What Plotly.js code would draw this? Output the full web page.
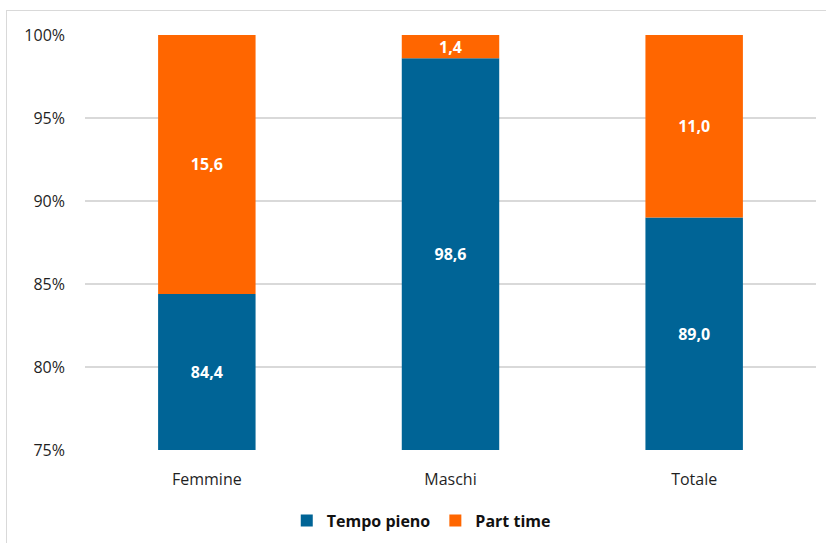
<!DOCTYPE html>
<html>
<head>
<meta charset="utf-8">
<script src="https://cdn.plot.ly/plotly-3.0.1.min.js"></script>
<style>
  html, body { margin: 0; padding: 0; background: #fff; }
  #frame { position: absolute; left: 6px; top: 10px; width: 900px; height: 600px; border: 1.5px solid #d9d9d9; }
  #chart { position: absolute; left: 0; top: 0; width: 826px; height: 543px; }
</style>
</head>
<body>
<div id="frame"></div>
<div id="chart"></div>
<script>
const categories = ['Femmine', 'Maschi', 'Totale'];
const tempoPieno = [84.4, 98.6, 89.0];
const partTime = [15.6, 1.4, 11.0];
const yTickVals = [0.75, 0.80, 0.85, 0.90, 0.95, 1.00];

const axisMin = 0.75;
const fmt = v => v.toFixed(1).replace('.', ',');
const FONT = '"Open Sans", "Noto Sans", sans-serif';

const traces = [
  {
    type: 'bar', name: 'Tempo pieno', x: categories,
    base: categories.map(() => axisMin),
    y: tempoPieno.map(v => v / 100 - axisMin),
    text: tempoPieno.map(fmt), textposition: 'inside', insidetextanchor: 'middle',
    textfont: { color: '#ffffff', size: 16, family: FONT, weight: 'bold' },
    marker: { color: '#006496' }, width: 0.4, hoverinfo: 'none'
  },
  {
    type: 'bar', name: 'Part time', x: categories,
    base: tempoPieno.map(v => v / 100),
    y: partTime.map(v => v / 100),
    text: partTime.map(fmt), textposition: 'inside', insidetextanchor: 'middle',
    textfont: { color: '#ffffff', size: 16, family: FONT, weight: 'bold' },
    marker: { color: '#ff6600' }, width: 0.4, hoverinfo: 'none'
  }
];

const layout = {
  width: 826, height: 543,
  margin: { l: 85, r: 10, t: 35, b: 93, autoexpand: false },
  paper_bgcolor: 'rgba(0,0,0,0)', plot_bgcolor: 'rgba(0,0,0,0)',
  barmode: 'overlay',
  separators: ',.',
  uniformtext: { mode: 'show', minsize: 15 },
  font: { family: FONT, color: '#1f1f1f', size: 16 },
  showlegend: true,
  legend: {
    orientation: 'h', x: 0.46, xanchor: 'center', y: -0.17, yanchor: 'middle',
    font: { size: 16, weight: 'bold', color: '#111111' }, traceorder: 'normal'
  },
  xaxis: {
    showgrid: false, showline: false, zeroline: false, ticks: '',
    ticklabelstandoff: 18, tickfont: { size: 16 }
  },
  yaxis: {
    range: [0.75, 1.0], tickvals: yTickVals, tickformat: '.0%',
    showgrid: true, gridcolor: '#d9d9d9', gridwidth: 1.5, zeroline: false,
    ticks: '', ticklabelstandoff: 19, tickfont: { size: 16 }, fixedrange: true
  }
};

Plotly.newPlot('chart', traces, layout, { displayModeBar: false, staticPlot: true });
</script>
</body>
</html>
